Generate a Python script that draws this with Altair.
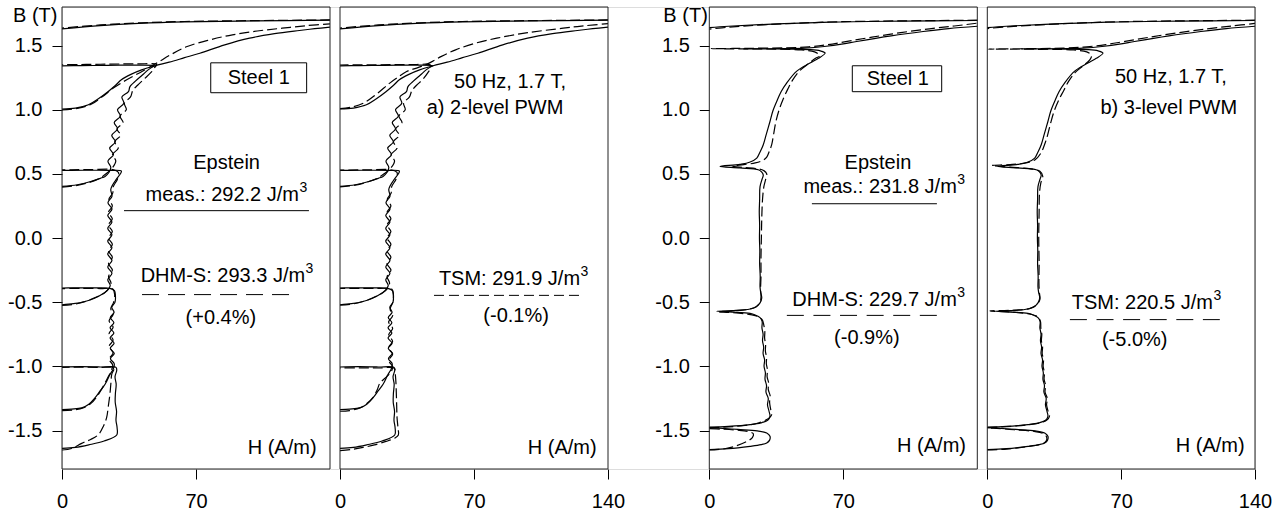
import altair as alt
import pandas as pd

FONT = "Liberation Sans"
H_DOMAIN = [0, 140]
B_DOMAIN = [-1.8, 1.8]
B_TICKS = [-1.5, -1.0, -0.5, 0.0, 0.5, 1.0, 1.5]

# ---------------- measured loop, 2-level PWM (solid) ----------------
M2_SEGS = [
    [(0, -1.640), (7, -1.632), (14, -1.612), (22, -1.582), (28.6, -1.535), (28.8, -1.48), (28.2, -1.42),
     (28.5, -1.35), (27.8, -1.28), (27.9, -1.21), (28.3, -1.14), (27.7, -1.08), (28.6, -1.03), (28.2, -1.008),
     (20, -1.005), (10, -1.003), (0, -1.005)],
    [(0, -1.337), (5, -1.333), (10.3, -1.324), (14, -1.295), (17.2, -1.246), (20, -1.19), (22.5, -1.14),
     (25, -1.065), (26.8, -1.02), (27.3, -0.98), (25.3, -0.94), (27.3, -0.90), (25.2, -0.86), (27.2, -0.82),
     (25.1, -0.78), (27.1, -0.74), (25.1, -0.70), (27.1, -0.66), (25.2, -0.62), (27.2, -0.58), (26, -0.54),
     (27.7, -0.50), (27.9, -0.45), (27.4, -0.41), (25, -0.392), (15, -0.389), (5, -0.389), (0, -0.39)],
    [(0, -0.520), (6, -0.512), (12, -0.495), (17, -0.47), (20.7, -0.44), (23.5, -0.41), (25.2, -0.37),
     (23.9, -0.325), (26.1, -0.275), (23.9, -0.225), (26.1, -0.175), (23.9, -0.125), (26.1, -0.075),
     (23.9, -0.025), (26.1, 0.025), (23.9, 0.075), (26.1, 0.125), (23.9, 0.175), (26.1, 0.225), (24.0, 0.275),
     (26.1, 0.325), (25.5, 0.38), (28, 0.45), (30.5, 0.50), (31, 0.522), (25, 0.527), (15, 0.528), (5, 0.527),
     (0, 0.527)],
    [(0, 0.402), (8, 0.415), (15, 0.44), (20, 0.465), (22.5, 0.48), (24.5, 0.51), (25.5, 0.55), (24.0, 0.60),
     (26.9, 0.65), (24.9, 0.70), (27.9, 0.75), (26.0, 0.80), (29.0, 0.85), (27.3, 0.90), (30.5, 0.95),
     (29.0, 1.00), (32.3, 1.05), (31.3, 1.10), (34.7, 1.14), (35.5, 1.18), (38.2, 1.22), (42, 1.27), (45, 1.31),
     (47.5, 1.335), (48.6, 1.342), (40, 1.347), (30, 1.347), (20, 1.345), (10, 1.343), (0, 1.342)],
    [(0, 1.005), (7, 1.012), (13.8, 1.038), (19, 1.085), (24, 1.14), (28, 1.19), (31, 1.233), (36, 1.275),
     (41.6, 1.31), (48.6, 1.342), (56, 1.37), (64, 1.405), (72, 1.44), (85, 1.505), (98, 1.557), (111, 1.592),
     (124, 1.617), (132, 1.631), (140, 1.643)],
    [(140, 1.697), (100, 1.692), (64, 1.684), (40, 1.672), (20, 1.655), (0, 1.630)],
]

# ---------------- DHM-S model, 2-level PWM (dashed) ----------------
D2_SEGS = [
    [(0, -1.652), (5, -1.64), (10.3, -1.60), (15, -1.57), (19, -1.532), (21.5, -1.47), (23.3, -1.40),
     (24.2, -1.31), (25, -1.22), (25.5, -1.14), (26, -1.06), (27.2, -1.013), (20, -1.008), (10, -1.006),
     (0, -1.008)],
    [(0, -1.345), (6, -1.34), (11, -1.325), (15, -1.29), (18, -1.24), (21, -1.17), (23.5, -1.10), (25.5, -1.04),
     (26.5, -0.99), (24.6, -0.945), (26.7, -0.895), (24.6, -0.845), (26.7, -0.795), (24.6, -0.745),
     (26.7, -0.695), (24.6, -0.645), (26.7, -0.595), (25.5, -0.55), (27, -0.50), (27.5, -0.44), (26.5, -0.398),
     (20, -0.394), (10, -0.393), (0, -0.394)],
    [(0, -0.525), (7, -0.515), (13, -0.49), (18, -0.46), (22, -0.43), (24.5, -0.395), (25.6, -0.35),
     (24.3, -0.30), (26.3, -0.25), (24.3, -0.20), (26.3, -0.15), (24.3, -0.10), (26.3, -0.05), (24.3, 0.0),
     (26.3, 0.05), (24.3, 0.10), (26.3, 0.15), (24.3, 0.20), (26.3, 0.25), (24.5, 0.30), (26.5, 0.35),
     (26.8, 0.40), (29, 0.46), (29.5, 0.51), (27, 0.532), (15, 0.533), (5, 0.532), (0, 0.532)],
    [(0, 0.396), (8, 0.41), (14, 0.432), (19, 0.46), (23, 0.5), (26.5, 0.55), (28.1, 0.60), (26.4, 0.65),
     (29.4, 0.70), (27.5, 0.75), (30.6, 0.80), (28.7, 0.85), (31.9, 0.90), (30.3, 0.95), (33.6, 1.00),
     (32.6, 1.05), (35.8, 1.10), (37, 1.15), (39.5, 1.19), (43, 1.24), (46.5, 1.29), (48.5, 1.33),
     (49.5, 1.352), (40, 1.357), (30, 1.356), (20, 1.354), (10, 1.352), (0, 1.35)],
    [(0, 0.998), (8, 1.01), (15, 1.04), (21, 1.10), (27, 1.17), (33.8, 1.233), (42, 1.30), (49.5, 1.363),
     (57, 1.43), (65, 1.49), (77, 1.543), (89, 1.583), (102, 1.613), (115, 1.635), (128, 1.655), (140, 1.669)],
    [(140, 1.699), (100, 1.694), (64, 1.687), (40, 1.676), (20, 1.660), (0, 1.636)],
]

# ---------------- TSM model, 2-level PWM (dashed) ----------------
T2_SEGS = [
    [(0, -1.657), (6, -1.648), (12, -1.632), (18, -1.612), (24, -1.585), (28.5, -1.56), (30.5, -1.535),
     (30.3, -1.48), (29.8, -1.40), (29.6, -1.30), (29.4, -1.20), (29.2, -1.12), (28.8, -1.05), (28.4, -1.015),
     (20, -1.013), (10, -1.012), (0, -1.013)],
    [(0, -1.35), (5, -1.345), (10.4, -1.324), (14, -1.29), (17.4, -1.24), (19.5, -1.18), (20.9, -1.13),
     (24.4, -1.08), (26.8, -1.04), (27.4, -1.0), (25.4, -0.955), (27.5, -0.905), (25.4, -0.855), (27.5, -0.805),
     (25.4, -0.755), (27.5, -0.705), (25.4, -0.655), (27.5, -0.605), (26.2, -0.555), (27.6, -0.50),
     (27.9, -0.44), (27, -0.397), (20, -0.393), (10, -0.392), (0, -0.393)],
    [(0, -0.523), (7, -0.513), (13, -0.49), (18, -0.46), (22, -0.43), (24.8, -0.395), (25.9, -0.35),
     (24.6, -0.30), (26.6, -0.25), (24.6, -0.20), (26.6, -0.15), (24.6, -0.10), (26.6, -0.05), (24.6, 0.0),
     (26.6, 0.05), (24.6, 0.10), (26.6, 0.15), (24.6, 0.20), (26.6, 0.25), (24.7, 0.30), (26.7, 0.35),
     (27, 0.40), (29.3, 0.46), (29.8, 0.51), (27, 0.53), (15, 0.531), (5, 0.53), (0, 0.53)],
    [(0, 0.399), (8, 0.412), (14, 0.435), (19, 0.462), (23, 0.5), (26.8, 0.55), (28.5, 0.60), (26.7, 0.65),
     (29.8, 0.70), (27.9, 0.75), (31.0, 0.80), (29.1, 0.85), (32.4, 0.90), (30.8, 0.95), (34.1, 1.00),
     (33.2, 1.05), (36.3, 1.10), (37.6, 1.15), (40, 1.19), (43.5, 1.24), (46, 1.29), (47.5, 1.33), (47, 1.35),
     (40, 1.352), (30, 1.351), (20, 1.35), (10, 1.349), (0, 1.348)],
    [(0, 1.008), (6, 1.02), (12.2, 1.05), (19, 1.12), (26, 1.207), (30, 1.25), (34.8, 1.297), (41, 1.33),
     (46.6, 1.363), (53, 1.415), (60.4, 1.466), (70, 1.515), (81.9, 1.557), (98, 1.60), (116.6, 1.635),
     (128, 1.654), (140, 1.67)],
    [(140, 1.699), (100, 1.694), (64, 1.687), (40, 1.676), (20, 1.660), (0, 1.636)],
]

# ---------------- measured loop, 3-level PWM (solid) ----------------
M3_SEGS = [
    [(0, -1.649), (10, -1.642), (21.3, -1.623), (27, -1.61), (30, -1.597), (31.5, -1.575), (31.7, -1.545),
     (30, -1.52), (25, -1.503), (15, -1.492), (5, -1.482), (0, -1.478)],
    [(0, -1.474), (10, -1.468), (21.3, -1.454), (27, -1.44), (30.5, -1.42), (31.7, -1.39), (31.2, -1.35),
     (30.4, -1.30), (30.8, -1.25), (29.6, -1.20), (29.9, -1.15), (29.1, -1.10), (29.3, -1.05), (28.6, -1.00),
     (28.9, -0.95), (28.1, -0.90), (28.4, -0.85), (27.8, -0.80), (28.1, -0.75), (27.5, -0.70), (27.6, -0.65),
     (26.5, -0.62), (24, -0.60), (21.3, -0.588), (12, -0.577), (3.9, -0.571), (12, -0.566), (21.3, -0.553),
     (24.5, -0.535), (26.5, -0.505), (27.4, -0.467), (26.8, -0.42), (26.5, -0.38), (26.6, -0.30), (26.3, -0.20),
     (26.4, -0.10), (26.2, 0.0), (26.3, 0.10), (26.1, 0.20), (26.3, 0.30), (26.5, 0.40), (27.6, 0.46),
     (28.2, 0.49), (27.3, 0.515), (25.6, 0.532), (16, 0.546), (5.6, 0.558), (16, 0.574), (21, 0.59),
     (24.8, 0.623), (26.5, 0.67), (28.2, 0.727), (29.8, 0.81), (31.7, 0.908), (33.2, 0.99), (35.2, 1.064),
     (37.5, 1.14), (40.4, 1.207), (45.7, 1.30), (52.6, 1.363), (57, 1.40), (60.5, 1.441), (58, 1.458),
     (52, 1.468), (40, 1.472), (30, 1.474), (17.8, 1.474), (40, 1.476), (50, 1.48), (60, 1.492), (70, 1.512),
     (77, 1.531), (95, 1.575), (111.7, 1.609), (125, 1.632), (140, 1.650)],
    [(140, 1.695), (100, 1.69), (63, 1.682), (30, 1.665), (10, 1.65), (0, 1.640)],
]

# ---------------- DHM-S model, 3-level PWM (dashed) ----------------
D3_SEGS = [
    [(0, -1.652), (8, -1.642), (14, -1.62), (19, -1.59), (22.5, -1.555), (23, -1.525), (20, -1.507),
     (14, -1.497), (6, -1.489), (0, -1.485)],
    [(0, -1.48), (10, -1.472), (20, -1.458), (26, -1.44), (30, -1.415), (32.5, -1.38), (32, -1.33),
     (31.5, -1.28), (31.8, -1.23), (30.8, -1.18), (31, -1.13), (30.2, -1.08), (30.4, -1.03), (29.8, -0.98),
     (29.9, -0.93), (29.3, -0.88), (29.4, -0.83), (28.9, -0.78), (29, -0.73), (28.5, -0.68), (27.5, -0.635),
     (24, -0.605), (18, -0.59), (10, -0.58), (5, -0.575), (12, -0.568), (20, -0.557), (24.5, -0.535),
     (26.5, -0.50), (27, -0.46), (26.8, -0.40), (27, -0.30), (27, -0.15), (27.2, 0.0), (27.4, 0.15),
     (27.8, 0.30), (28.5, 0.40), (29.5, 0.46), (30, 0.50), (28.5, 0.525), (25, 0.54), (18, 0.55), (12, 0.56),
     (18, 0.572), (24, 0.585), (28, 0.605), (30, 0.63), (31.2, 0.67), (32.6, 0.727), (33.5, 0.80),
     (34.8, 0.908), (36.5, 1.0), (38.5, 1.08), (41, 1.16), (43.5, 1.23), (47, 1.30), (52, 1.36), (55.5, 1.40),
     (57.8, 1.42), (55, 1.45), (48, 1.465), (35, 1.472), (20, 1.474), (1, 1.475), (20, 1.478), (40, 1.482),
     (52, 1.49), (62, 1.507), (72, 1.532), (85, 1.565), (100, 1.60), (115, 1.63), (128, 1.652), (140, 1.674)],
    [(140, 1.697), (100, 1.692), (63, 1.683), (30, 1.662), (10, 1.642), (0, 1.628)],
]

# ---------------- TSM model, 3-level PWM (dashed) ----------------
T3_SEGS = [
    [(0, -1.652), (10, -1.645), (20, -1.628), (26, -1.615), (29.5, -1.60), (31, -1.575), (31, -1.55),
     (29, -1.522), (24, -1.506), (14, -1.494), (5, -1.484), (0, -1.48)],
    [(0, -1.477), (10, -1.47), (21, -1.456), (27, -1.442), (31, -1.42), (32.5, -1.39), (31.8, -1.35),
     (31, -1.30), (31.4, -1.25), (30.2, -1.20), (30.5, -1.15), (29.7, -1.10), (29.9, -1.05), (29.2, -1.00),
     (29.4, -0.95), (28.7, -0.90), (28.9, -0.85), (28.3, -0.80), (28.5, -0.75), (28, -0.70), (27.8, -0.65),
     (26.5, -0.615), (23, -0.595), (15, -0.58), (1.4, -0.568), (15, -0.562), (22, -0.55), (25.5, -0.525),
     (27.5, -0.48), (27.2, -0.42), (27, -0.35), (27.1, -0.2), (26.9, 0.0), (27.1, 0.2), (27.3, 0.35),
     (28, 0.43), (29, 0.48), (27.5, 0.52), (22, 0.54), (12, 0.552), (2.3, 0.565), (12, 0.572), (20, 0.585),
     (25, 0.61), (28, 0.66), (30, 0.73), (31.5, 0.80), (33.2, 0.9), (35, 0.99), (37.2, 1.07), (40, 1.15),
     (42.5, 1.22), (46, 1.29), (50, 1.34), (53.7, 1.39), (54.5, 1.425), (52, 1.45), (45, 1.465), (30, 1.47),
     (0.5, 1.472), (20, 1.475), (40, 1.48), (52, 1.49), (62, 1.507), (72, 1.532), (85, 1.565), (100, 1.60),
     (115, 1.63), (128, 1.652), (140, 1.672)],
    [(140, 1.697), (100, 1.692), (63, 1.683), (30, 1.663), (10, 1.645), (0, 1.632)],
]

# ---------------- annotations (data coordinates H, B) ----------------
# centred labels
P1_TEXT = [(102.8, 1.248, "Steel 1"), (86, 0.586, "Epstein"), (83, -0.62, "(+0.4%)")]
P2_TEXT = [(88.8, 1.217, "50 Hz, 1.7 T,"), (81, 1.014, "a) 2-level PWM"), (92, -0.61, "(-0.1%)")]
P3_TEXT = [(98.5, 1.24, "Steel 1"), (88.1, 0.586, "Epstein"), (82.3, -0.777, "(-0.9%)")]
P4_TEXT = [(96, 1.256, "50 Hz, 1.7 T,"), (94.9, 1.014, "b) 3-level PWM"), (77.1, -0.792, "(-5.0%)")]
# labels ending in a superscript 3 (H = right end of the base text)
P1_SUP = [(123.8, 0.337, "meas.: 292.2 J/m"), (127, -0.294, "DHM-S: 293.3 J/m")]
P2_SUP = [(125.4, -0.317, "TSM: 291.9 J/m")]
P3_SUP = [(129.3, 0.40, "meas.: 231.8 J/m"), (129.3, -0.481, "DHM-S: 229.7 J/m")]
P4_SUP = [(118, -0.504, "TSM: 220.5 J/m")]
SUP_TEXT = "3"
AXIS_LABEL = "H (A/m)"
AXIS_LABEL_POS = [(133, -1.633), (134.1, -1.636), (134.1, -1.623), (134.6, -1.623)]
BOX1 = (77.7, 127.8, 1.132, 1.365)
BOX3 = (74.7, 121.4, 1.14, 1.342)
MEAS_RULES = [(32.4, 129, 0.213), None, (53.6, 118.9, 0.267), None]
MODEL_RULES = [(41.8, 119.1, -0.441), (49.1, 125.4, -0.447), (40.5, 118.9, -0.603), (43.2, 121.6, -0.636)]


def curve_df(segs, name):
    rows = []
    for i, seg in enumerate(segs):
        for k, (h, b) in enumerate(seg):
            rows.append({"H": h, "B": b, "seg": f"{name}{i}", "ord": k})
    return pd.DataFrame(rows)


def panel(meas, model, texts, sups, label_pos, box, meas_rule, model_rule, rule_dash, x_vals, x_range, y_axis):
    xs = alt.Scale(domain=H_DOMAIN, range=x_range, nice=False, zero=False)
    ys = alt.Scale(domain=B_DOMAIN, nice=False, zero=False)
    xax = alt.Axis(orient="bottom", values=x_vals, title=None, domain=False, grid=False,
                   tickSize=10, tickColor="black", tickWidth=1, labelFont=FONT, labelFontSize=20,
                   labelColor="black", labelPadding=12, labelFlush=False, labelOverlap=False,
                   format="d")

    def X(f):
        return alt.X(f, type="quantitative", scale=xs, axis=xax)

    def Y(f):
        return alt.Y(f, type="quantitative", scale=ys, axis=y_axis)

    layers = []
    layers.append(alt.Chart(curve_df(meas, "m")).mark_line(clip=True, color="black", strokeWidth=1.2,
                                                            interpolate="catmull-rom")
                  .encode(x=X("H"), y=Y("B"), detail="seg:N", order=alt.Order("ord:Q")))
    layers.append(alt.Chart(curve_df(model, "d")).mark_line(clip=True, color="black", strokeWidth=1.2,
                                                             strokeDash=[10, 4], interpolate="catmull-rom")
                  .encode(x=X("H"), y=Y("B"), detail="seg:N", order=alt.Order("ord:Q")))
    frame = pd.DataFrame({"x": [H_DOMAIN[0]], "x2": [H_DOMAIN[1]], "y": [B_DOMAIN[0]], "y2": [B_DOMAIN[1]]})
    layers.append(alt.Chart(frame).mark_rect(fill="white", fillOpacity=0, stroke="#222", strokeWidth=1)
                  .encode(x=X("x"), x2="x2", y=Y("y"), y2="y2"))
    if box is not None:
        bdf = pd.DataFrame({"x": [box[0]], "x2": [box[1]], "y": [box[2]], "y2": [box[3]]})
        layers.append(alt.Chart(bdf).mark_rect(fill="white", stroke="black", strokeWidth=1)
                      .encode(x=X("x"), x2="x2", y=Y("y"), y2="y2"))
    tdf = pd.DataFrame(texts, columns=["H", "B", "label"])
    layers.append(alt.Chart(tdf).mark_text(font=FONT, fontSize=20, color="black", align="center",
                                           baseline="middle")
                  .encode(x=X("H"), y=Y("B"), text="label:N"))
    sdf = pd.DataFrame(sups, columns=["H", "B", "label"])
    layers.append(alt.Chart(sdf).mark_text(font=FONT, fontSize=20, color="black", align="right",
                                           baseline="middle")
                  .encode(x=X("H"), y=Y("B"), text="label:N"))
    sdf3 = sdf.assign(label=SUP_TEXT)
    layers.append(alt.Chart(sdf3).mark_text(font=FONT, fontSize=14, color="black", align="left",
                                            baseline="middle", dx=0.5, dy=-7)
                  .encode(x=X("H"), y=Y("B"), text="label:N"))
    ldf = pd.DataFrame([(label_pos[0], label_pos[1], AXIS_LABEL)], columns=["H", "B", "label"])
    layers.append(alt.Chart(ldf).mark_text(font=FONT, fontSize=20, color="black", align="right",
                                           baseline="middle")
                  .encode(x=X("H"), y=Y("B"), text="label:N"))
    if meas_rule is not None:
        rdf = pd.DataFrame([meas_rule], columns=["x", "x2", "y"])
        layers.append(alt.Chart(rdf).mark_rule(color="black", strokeWidth=1)
                      .encode(x=X("x"), x2="x2", y=Y("y")))
    rdf2 = pd.DataFrame([model_rule], columns=["x", "x2", "y"])
    layers.append(alt.Chart(rdf2).mark_rule(color="black", strokeWidth=1, strokeDash=rule_dash)
                  .encode(x=X("x"), x2="x2", y=Y("y")))
    return alt.layer(*layers)


def y_axis(offset, title_x):
    return alt.Axis(orient="left", offset=offset, values=B_TICKS, domain=False, grid=False,
                    tickSize=10, tickColor="black", tickWidth=1, labelFont=FONT, labelFontSize=20,
                    labelColor="black", labelPadding=10,
                    labelExpr="replace(format(datum.value, '.1f'), '\u2212', '-')",
                    title="B (T)", titleAngle=0, titleAlign="right", titleBaseline="middle",
                    titleX=title_x, titleY=8, titleFont=FONT, titleFontSize=20,
                    titleFontWeight="normal", titleColor="black")


p1 = panel(M2_SEGS, D2_SEGS, P1_TEXT, P1_SUP, AXIS_LABEL_POS[0], BOX1, MEAS_RULES[0], MODEL_RULES[0], [17, 9],
           [0, 70], [0, 268], y_axis(0, -5))
p2 = panel(M2_SEGS, T2_SEGS, P2_TEXT, P2_SUP, AXIS_LABEL_POS[1], None, MEAS_RULES[1], MODEL_RULES[1], [10, 5],
           [0, 70, 140], [278, 546], None)
p3 = panel(M3_SEGS, D3_SEGS, P3_TEXT, P3_SUP, AXIS_LABEL_POS[2], BOX3, MEAS_RULES[2], MODEL_RULES[2], [17, 9.6],
           [0, 70], [647.3, 915.3], y_axis(-647.3, -2))
p4 = panel(M3_SEGS, T3_SEGS, P4_TEXT, P4_SUP, AXIS_LABEL_POS[3], None, MEAS_RULES[3], MODEL_RULES[3], [17, 9.6],
           [0, 70, 140], [925.3, 1193], None)

chart = (
    alt.layer(p1, p2, p3, p4)
    .resolve_scale(x="independent", y="independent")
    .resolve_axis(x="independent", y="independent")
    .properties(width=1193, height=462,
                padding={"left": 62, "top": 7, "right": 25, "bottom": 43},
                autosize=alt.AutoSizeParams(type="none"))
    .configure_view(stroke="transparent")
    .configure(background="white")
)

chart.save("out.html", embed_options={"renderer": "svg", "actions": False})
